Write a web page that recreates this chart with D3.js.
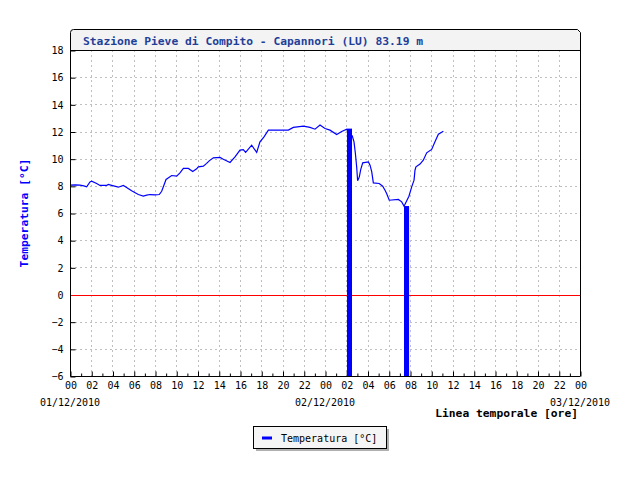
<!DOCTYPE html>
<html>
<head>
<meta charset="utf-8">
<script src="https://cdn.jsdelivr.net/npm/d3@7"></script>
<style>
  html, body { margin: 0; padding: 0; background: #ffffff; }
  svg { display: block; }
  text { font-family: "DejaVu Sans Mono", monospace; }
</style>
</head>
<body>
<svg id="chart" width="640" height="480"></svg>
<script>
// ---- data ----
const title = "Stazione Pieve di Compito - Capannori (LU) 83.19 m";
const yTitle = "Temperatura [°C]";
const xTitle = "Linea temporale [ore]";
const seriesName = "Temperatura [°C]";

// hours elapsed since 01/12/2010 00:00
const hours = [0, 0.5, 0.94, 1.3, 1.57, 1.88, 2.04, 2.51, 2.82, 3.45, 3.6, 3.92, 4.55, 5.02, 5.33, 5.8,
  6.43, 6.9, 7.22, 7.53, 8.0, 8.4, 8.63, 9.04, 9.57, 10.04, 10.35, 10.67, 11.14, 11.55, 11.92, 12.08,
  12.55, 12.86, 13.1, 13.49, 14.12, 14.43, 15.06, 15.53, 16.0, 16.31, 16.53, 17.1, 17.57, 17.88, 18.26,
  18.67, 20.55, 21.02, 21.96, 22.59, 23.06, 23.53, 24.0, 24.47, 25.1, 25.57, 26.04, 26.57, 26.73, 26.86,
  26.98, 27.07, 27.23, 27.36, 27.55, 28.08, 28.24, 28.4, 28.55, 29.1, 29.43, 29.65, 29.8, 30.05, 30.9,
  31.22, 31.44, 31.9, 32.16, 32.38, 32.47, 32.56, 32.94, 33.25, 33.57, 34.04, 34.35, 34.67, 35.14];
const temps = [8.05, 8.07, 8.05, 8.0, 7.93, 8.29, 8.34, 8.17, 8.03, 8.03, 8.1, 8.03, 7.9, 8.03, 7.88, 7.63,
  7.36, 7.24, 7.31, 7.36, 7.34, 7.36, 7.6, 8.47, 8.76, 8.71, 8.95, 9.28, 9.28, 9.06, 9.25, 9.4,
  9.45, 9.65, 9.84, 10.06, 10.09, 9.96, 9.72, 10.13, 10.63, 10.67, 10.46, 10.99, 10.46, 11.24, 11.6,
  12.1, 12.1, 12.3, 12.39, 12.3, 12.17, 12.47, 12.22, 12.1, 11.78, 12.0, 12.17, 11.66, 11.24, 10.38,
  9.4, 8.37, 8.66, 9.2, 9.69, 9.76, 9.52, 9.03, 8.22, 8.17, 7.97, 7.68, 7.44, 6.94, 7.0,
  6.82, 6.5, 7.24, 7.92, 8.42, 9.15, 9.4, 9.6, 9.89, 10.43, 10.68, 11.24, 11.8, 12.02];

// invalid readings (drop to bottom of scale): start hour, end hour, last valid value
const gapStart = [26.07, 31.44];
const gapEnd = [26.54, 31.91];
const gapTop = [12.2, 6.5];

const yTicks = [-6, -4, -2, 0, 2, 4, 6, 8, 10, 12, 14, 16, 18];
const xMajorTicks = d3.range(0, 49, 2);
const xMinorTicks = d3.range(1, 48, 2);
const xTickLabels = ["00","02","04","06","08","10","12","14","16","18","20","22",
                     "00","02","04","06","08","10","12","14","16","18","20","22","00"];
const dateHours = [0, 24, 48];
const dateLabels = ["01/12/2010", "02/12/2010", "03/12/2010"];

// ---- layout ----
const L = 70, R = 580, T = 50, B = 376, TB = 29;
const svg = d3.select("#chart");
const x = d3.scaleLinear().domain([0, 48]).range([L, R]);
const y = d3.scaleLinear().domain([-6, 18]).range([B, T]);

// grid
const grid = svg.append("g").attr("stroke", "#c0c0c0").attr("stroke-dasharray", "2,3").attr("stroke-width", 1);
grid.selectAll("line.h").data(yTicks.filter(v => v > -6 && v < 18 && v !== 0)).join("line").attr("class", "h")
  .attr("x1", L).attr("x2", R).attr("y1", d => Math.round(y(d)) + 0.5).attr("y2", d => Math.round(y(d)) + 0.5);
grid.selectAll("line.v").data(xMajorTicks.filter(h => h > 0 && h < 48)).join("line").attr("class", "v")
  .attr("x1", d => Math.round(x(d)) + 0.5).attr("x2", d => Math.round(x(d)) + 0.5).attr("y1", T).attr("y2", B);

// series line
const pts = hours.map((h, i) => [h, temps[i]]);
svg.append("path").datum(pts)
  .attr("fill", "none").attr("stroke", "#0000ff").attr("stroke-width", 1.2)
  .attr("d", d3.line().x(d => x(d[0])).y(d => y(d[1])));

// invalid-reading bars
svg.append("g").selectAll("rect").data(gapStart.map((s, i) => ({s, e: gapEnd[i], t: gapTop[i]}))).join("rect")
  .attr("x", d => x(d.s)).attr("width", d => x(d.e) - x(d.s))
  .attr("y", d => y(d.t)).attr("height", d => y(-6) - y(d.t))
  .attr("fill", "#0000ff");

// title box
svg.append("path")
  .attr("d", `M${L},${T} L${L},${TB + 3} Q${L},${TB} ${L + 3},${TB} L${R - 3},${TB} L${R},${TB + 3} L${R},${T} Z`)
  .attr("fill", "#f3f3f3").attr("stroke", "#000").attr("stroke-width", 1)
  .attr("transform", "translate(0.5,0.5)");
svg.append("text").attr("x", 83).attr("y", 45).attr("font-size", 11.3).attr("font-weight", "bold")
  .attr("fill", "#1f3f99").text(title);

// frame right side
svg.append("line").attr("x1", R + 0.5).attr("x2", R + 0.5).attr("y1", T).attr("y2", B).attr("stroke", "#000");

// axes
const yAxis = svg.append("g").attr("transform", `translate(${L + 0.5},0.5)`)
  .call(d3.axisLeft(y).tickValues(yTicks).tickSize(-5).tickPadding(7).tickFormat(d3.format("d")));
const xAxis = svg.append("g").attr("transform", `translate(0.5,${B + 0.5})`)
  .call(d3.axisBottom(x).tickValues(xMajorTicks).tickSize(-5).tickPadding(5)
    .tickFormat((d, i) => xTickLabels[i]));
const xMinor = svg.append("g").attr("transform", `translate(0.5,${B + 0.5})`)
  .call(d3.axisBottom(x).tickValues(xMinorTicks).tickSize(-3).tickFormat(""));
xMinor.select(".domain").remove();
[yAxis, xAxis, xMinor].forEach(g => {
  g.selectAll("text").attr("font-family", "DejaVu Sans Mono").attr("font-size", 10).attr("fill", "#000");
  g.select(".domain").attr("stroke", "#000");
  g.selectAll(".tick line").attr("stroke", "#000");
});
yAxis.select(".domain").attr("d", `M0,${T - 0.5}V${B}`);
xAxis.select(".domain").attr("d", `M${L},0H${R}`);

// zero reference line (drawn on top of the grid, under the bars)
svg.append("line").attr("x1", L + 1).attr("x2", R).attr("y1", Math.round(y(0)) + 0.5).attr("y2", Math.round(y(0)) + 0.5)
  .style("stroke", "#ff0000").style("stroke-width", "1px");
// redraw bars on top so zero line passes beneath them
svg.append("g").selectAll("rect").data(gapStart.map((s, i) => ({s, e: gapEnd[i], t: gapTop[i]}))).join("rect")
  .attr("x", d => x(d.s)).attr("width", d => x(d.e) - x(d.s))
  .attr("y", d => y(d.t)).attr("height", d => y(-6) - y(d.t))
  .attr("fill", "#0000ff");

// date labels
svg.append("g").selectAll("text").data(dateHours).join("text")
  .attr("x", d => x(d)).attr("y", 406).attr("text-anchor", "middle")
  .attr("font-size", 10).attr("fill", "#000").text((d, i) => dateLabels[i]);

// axis titles
svg.append("text").attr("x", 578).attr("y", 417).attr("text-anchor", "end")
  .attr("font-size", 11.3).attr("font-weight", "bold").attr("fill", "#000").text(xTitle);
svg.append("text").attr("transform", `translate(28,${(T + B) / 2}) rotate(-90)`)
  .attr("text-anchor", "middle").attr("font-size", 11.3).attr("font-weight", "bold")
  .attr("fill", "#0000ff").text(yTitle);

// legend
const lg = svg.append("g");
lg.append("rect").attr("x", 256).attr("y", 429).attr("width", 133).attr("height", 22).attr("fill", "#b0b0b0");
lg.append("rect").attr("x", 253.5).attr("y", 426.5).attr("width", 133).attr("height", 22)
  .attr("fill", "#f5f5f5").attr("stroke", "#000");
lg.append("line").attr("x1", 262).attr("x2", 272).attr("y1", 438).attr("y2", 438)
  .attr("stroke", "#0000ff").attr("stroke-width", 3);
lg.append("text").attr("x", 281).attr("y", 441.5).attr("font-size", 10).attr("fill", "#000").text(seriesName);
</script>
</body>
</html>
